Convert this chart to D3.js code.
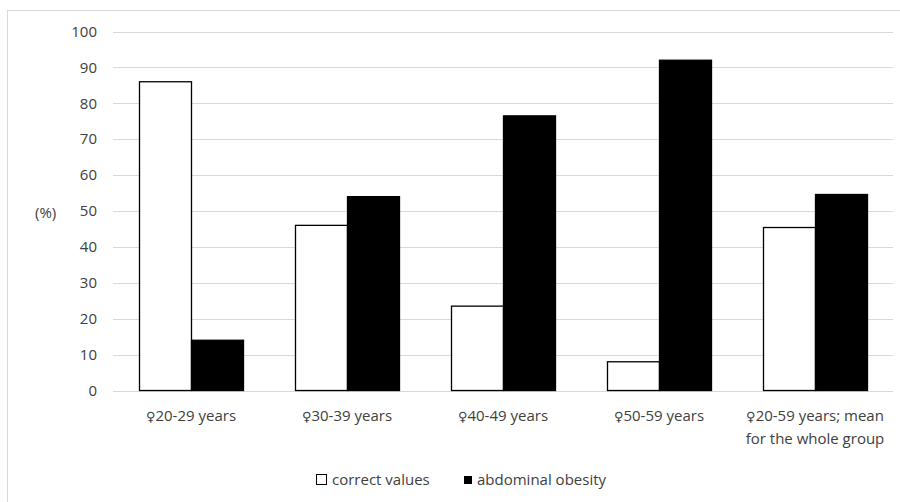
<!DOCTYPE html>
<html>
<head>
  <meta charset="utf-8">
  <title>Abdominal obesity</title>
  <script src="https://d3js.org/d3.v7.min.js"></script>
  <style>
    body { margin: 0; background: #fff; }
    text { font-family: "Open Sans", Lato, sans-serif; font-size: 15px; fill: #404040; }
    .sym { font-family: "DejaVu Sans", sans-serif; font-size: 13px; }
  </style>
</head>
<body>
<script>
  const categories = [
    ["20-29 years"],
    ["30-39 years"],
    ["40-49 years"],
    ["50-59 years"],
    ["20-59 years; mean", "for the whole group"]
  ];
  const femaleSign = "\u2640";
  const seriesNames = ["correct values", "abdominal obesity"];
  const correctValues = [86, 46, 23.5, 8, 45.4];
  const abdominalObesity = [14, 54, 76.5, 92, 54.6];
  const yTicks = [0, 10, 20, 30, 40, 50, 60, 70, 80, 90, 100];

  const width = 900, height = 502;
  const margin = {top: 31.5, right: 7, bottom: 111.5, left: 113};

  const svg = d3.select("body").append("svg")
    .attr("width", width)
    .attr("height", height);

  // chart frame (cropped at right and bottom)
  svg.append("rect")
    .attr("x", 7.5).attr("y", 10.5)
    .attr("width", 900).attr("height", 500)
    .attr("fill", "#fff")
    .attr("stroke", "#d9d9d9");

  const x = d3.scaleBand()
    .domain(d3.range(categories.length))
    .range([margin.left, width - margin.right])
    .paddingInner(1/3)
    .paddingOuter(1/6);

  const xs = d3.scaleBand()
    .domain([0, 1])
    .range([0, x.bandwidth()]);

  const y = d3.scaleLinear()
    .domain([0, 100])
    .range([height - margin.bottom, margin.top]);

  // gridlines
  svg.append("g")
    .selectAll("line")
    .data(yTicks)
    .join("line")
      .attr("x1", margin.left)
      .attr("x2", width - margin.right)
      .attr("y1", d => Math.round(y(d)) + 0.5)
      .attr("y2", d => Math.round(y(d)) + 0.5)
      .attr("stroke", "#d9d9d9")
      .attr("stroke-width", 1);

  // y axis labels
  svg.append("g")
    .selectAll("text")
    .data(yTicks)
    .join("text")
      .attr("x", 97)
      .attr("y", d => y(d))
      .attr("dy", "0.35em")
      .attr("text-anchor", "end")
      .text(d => d);

  svg.append("text")
    .attr("x", 35)
    .attr("y", 213)
    .attr("dy", "0.35em")
    .text("(%)");

  const rows = categories.map((c, i) => [correctValues[i], abdominalObesity[i]]);

  const g = svg.append("g")
    .selectAll("g")
    .data(rows)
    .join("g")
      .attr("transform", (d, i) => `translate(${x(i)},0)`);

  g.selectAll("rect")
    .data(d => d)
    .join("rect")
      .attr("x", (d, j) => Math.round(xs(j)) + 0.5)
      .attr("y", d => y(d))
      .attr("width", xs.bandwidth())
      .attr("height", d => y(0) - y(d))
      .attr("fill", (d, j) => j === 0 ? "#fff" : "#000")
      .attr("stroke", "#000")
      .attr("stroke-width", 1.3);

  // x labels
  const labels = svg.append("g")
    .selectAll("text")
    .data(categories)
    .join("text")
      .attr("x", (d, i) => x(i) + x.bandwidth() / 2)
      .attr("y", 421)
      .attr("text-anchor", "middle");

  labels.each(function(d) {
    const t = d3.select(this);
    const cx = t.attr("x");
    d.forEach((line, k) => {
      const ts = t.append("tspan").attr("x", cx).attr("dy", k === 0 ? 0 : 23);
      if (k === 0) ts.append("tspan").attr("class", "sym").text(femaleSign);
      ts.append("tspan").text(line);
    });
  });

  // legend
  const legend = svg.append("g")
    .selectAll("g")
    .data(seriesNames)
    .join("g")
      .attr("transform", (d, i) => `translate(${i === 0 ? 316 : 463},474)`);

  legend.append("rect")
    .attr("x", (d, i) => i === 0 ? 0.5 : 1)
    .attr("y", (d, i) => i === 0 ? 0.5 : 2)
    .attr("width", (d, i) => i === 0 ? 10 : 8)
    .attr("height", (d, i) => i === 0 ? 10 : 8)
    .attr("fill", (d, i) => i === 0 ? "#fff" : "#000")
    .attr("stroke", "#000")
    .attr("stroke-width", (d, i) => i === 0 ? 1 : 0);

  legend.append("text")
    .attr("x", (d, i) => i === 0 ? 16 : 14)
    .attr("y", 6)
    .attr("dy", "0.35em")
    .text(d => d);
</script>
</body>
</html>
